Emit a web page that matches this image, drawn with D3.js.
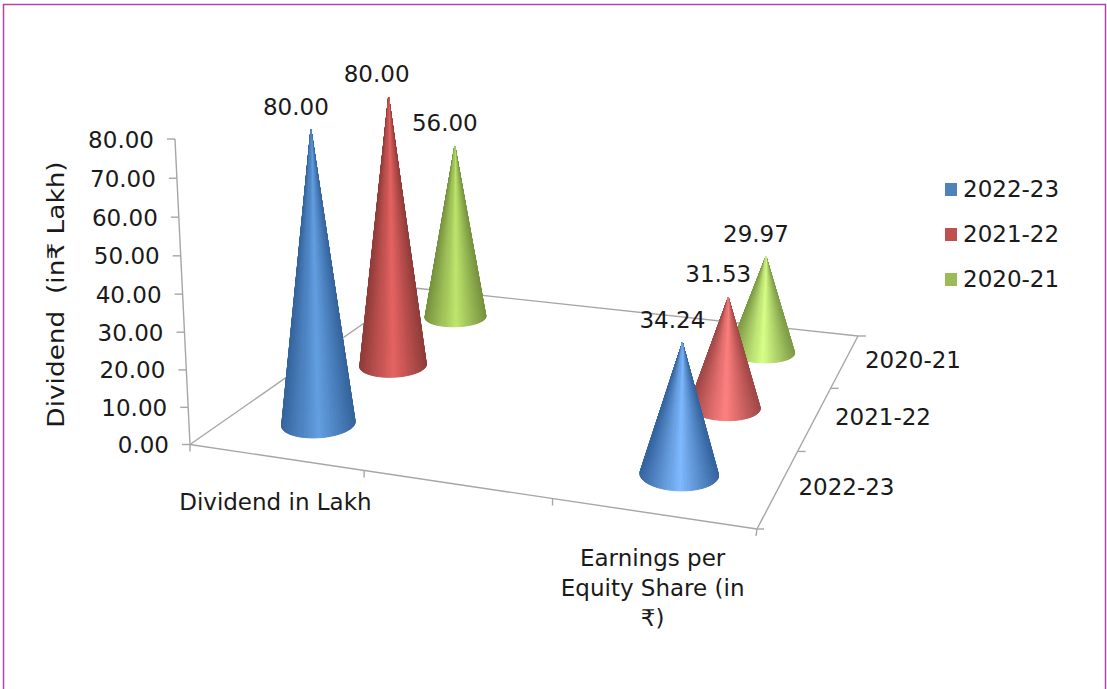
<!DOCTYPE html>
<html>
<head>
<meta charset="utf-8">
<script src="https://cdn.jsdelivr.net/npm/d3@7"></script>
<style>
  html, body { margin: 0; padding: 0; background: #fff; overflow: hidden; }
  svg { display: block; }
  text { font-family: "DejaVu Sans", sans-serif; fill: #1a1a1a; }
</style>
</head>
<body>
<svg width="1107" height="689"></svg>
<script>
// данные
const categories = ["Dividend in Lakh", "", "Earnings per Equity Share (in ₹)"];
const categoryLines = [["Dividend in Lakh"], [], ["Earnings per", "Equity Share (in", "₹)"]];
const series = ["2022-23", "2021-22", "2020-21"];
const values2022 = [80.00, null, 34.24];
const values2021 = [80.00, null, 31.53];
const values2020 = [56.00, null, 29.97];
const yTicks = [0, 10, 20, 30, 40, 50, 60, 70, 80];
const legendColors = ["#4f81bd", "#c0504d", "#9bbb59"];

// цвет края и середины конуса: [серия][категория]
const edgeColors = [["#35649c", null, "#34649f"], ["#8f3c3a", null, "#a04745"], ["#76923f", null, "#7d9a45"]];
const midColors = [["#639fe2", null, "#7fb9ff"], ["#e56462", null, "#ff8080"], ["#bfe66d", null, "#d8ff88"]];

const allValues = [values2022, values2021, values2020];

// углы пола на картинке
const A = [190, 444.5], B = [757, 529], C = [858, 336], D = [414.5, 288];
const axisTop = [174, 139];
const vanish = [660, 10000]; // куда сходятся вертикали
const apexNudge = [3, 2.5];
const fontSize = 23;

const svg = d3.select("svg");

// проекция: единичный квадрат пола -> четырехугольник
function floorHomography() {
  const dx1 = B[0] - C[0], dx2 = D[0] - C[0], sx = A[0] - B[0] + C[0] - D[0];
  const dy1 = B[1] - C[1], dy2 = D[1] - C[1], sy = A[1] - B[1] + C[1] - D[1];
  const den = dx1 * dy2 - dx2 * dy1;
  const g = (sx * dy2 - dx2 * sy) / den;
  const h = (dx1 * sy - sx * dy1) / den;
  return {
    a: B[0] - A[0] + g * B[0], b: D[0] - A[0] + h * D[0], c: A[0],
    d: B[1] - A[1] + g * B[1], e: D[1] - A[1] + h * D[1], f: A[1],
    g: g, h: h
  };
}
const H = floorHomography();
const qw = (A[1] - axisTop[1]) / (axisTop[1] - vanish[1]);

function project(u, v, t) {
  const lift = t || 0;
  const w = H.g * u + H.h * v + 1 + lift * qw;
  return [
    (H.a * u + H.b * v + H.c + lift * qw * vanish[0]) / w,
    (H.d * u + H.e * v + H.f + lift * qw * vanish[1]) / w
  ];
}

// шкалы
const scaleX = d3.scaleBand().domain(categories).range([0, 1]);
const scaleZ = d3.scaleBand().domain(series).range([0, 1]);
const scaleY = d3.scaleLinear().domain([0, 80]).range([0, 1]);

const radiusU = 0.065, radiusV = 0.069;
const line = d3.line();

function drawFrame() {
  svg.append("rect")
    .attr("x", 3.5).attr("y", 4.5)
    .attr("width", 1102).attr("height", 700)
    .attr("fill", "#fff")
    .attr("stroke", "#b244a8")
    .attr("stroke-width", 1.5);

  svg.append("defs").append("filter")
    .attr("id", "soft")
    .append("feGaussianBlur")
    .attr("stdDeviation", 0.6);
}

function drawAxes() {
  const g = svg.append("g")
    .attr("fill", "none")
    .attr("stroke", "#a6a6a6")
    .attr("stroke-width", 1.4);

  [[A, B], [B, C], [C, D], [D, A], [A, project(0, 0, 1)]].forEach(seg => {
    g.append("path").attr("d", line(seg));
  });

  // вертикальная ось
  yTicks.forEach(t => {
    const p = project(0, 0, scaleY(t));
    g.append("path").attr("d", line([[p[0] - 8, p[1]], p]));
    svg.append("text")
      .attr("x", p[0] - 21)
      .attr("y", p[1] + 8.5)
      .attr("text-anchor", "end")
      .attr("font-size", fontSize)
      .text(d3.format(".2f")(t));
  });

  // передняя ось: границы категорий
  categories.forEach((c, i) => {
    const p = project(scaleX.step() * i, 0);
    g.append("path").attr("d", line([p, [p[0], p[1] + 7]]));
  });
  g.append("path").attr("d", line([B, [B[0] - 1, B[1] + 7]]));

  // боковая ось
  series.forEach((s, i) => {
    const p = project(1, scaleZ.step() * (i + 1));
    g.append("path").attr("d", line([p, [p[0] + 8, p[1]]]));
  });
  g.append("path").attr("d", line([B, [B[0] + 7, B[1]]]));

  categories.forEach((c, i) => {
    const p = project(scaleX(c) + scaleX.bandwidth() / 2, 0);
    categoryLines[i].forEach((txt, k) => {
      svg.append("text")
        .attr("x", p[0])
        .attr("y", p[1] + 53 + k * 30)
        .attr("text-anchor", "middle")
        .attr("font-size", fontSize)
        .text(txt);
    });
  });

  series.forEach(s => {
    const p = project(1, scaleZ(s) + scaleZ.bandwidth() / 2);
    svg.append("text")
      .attr("x", p[0] + 20)
      .attr("y", p[1] + 7)
      .attr("font-size", fontSize)
      .text(s);
  });

  // подпись оси в оригинале растянута вдоль строки
  svg.append("text")
    .attr("transform", "translate(64,294.5) rotate(-90) scale(1.147,1)")
    .attr("text-anchor", "middle")
    .attr("font-size", fontSize)
    .attr("xml:space", "preserve")
    .text("Dividend  (in₹ Lakh)");
}

// конус: веер треугольников от вершины к кругу основания
function drawCone(catIndex, serIndex, value) {
  const cat = categories[catIndex], ser = series[serIndex];
  const cu = scaleX(cat) + scaleX.bandwidth() / 2;
  const cv = scaleZ(ser) + scaleZ.bandwidth() / 2;
  const top = project(cu, cv, scaleY(value));
  const apex = [top[0] + apexNudge[0], top[1] + apexNudge[1]];

  const n = 90;
  const ring = d3.range(n + 1).map(i => {
    const a = 2 * Math.PI * i / n;
    return { a: a, p: project(cu + radiusU * Math.cos(a), cv + radiusV * Math.sin(a)) };
  });
  const [x0, x1] = d3.extent(ring, d => d.p[0]);
  const shade = d3.scaleLinear()
    .domain([-1, 0, 1])
    .range([edgeColors[serIndex][catIndex], midColors[serIndex][catIndex], edgeColors[serIndex][catIndex]])
    .interpolate(d3.interpolateRgb);
  const toUnit = d3.scaleLinear().domain([x0, x1]).range([-1, 1]);

  const facets = d3.range(n).map(i => ({
    pts: [apex, ring[i].p, ring[i + 1].p],
    mid: (ring[i].p[0] + ring[i + 1].p[0]) / 2,
    depth: Math.sin((ring[i].a + ring[i + 1].a) / 2)
  })).sort((a, b) => b.depth - a.depth);

  const g = svg.append("g").attr("filter", "url(#soft)");
  facets.forEach(f => {
    const col = shade(toUnit(f.mid));
    g.append("path")
      .attr("d", line(f.pts) + "Z")
      .attr("fill", col)
      .attr("stroke", col)
      .attr("stroke-width", 1);
  });

  return { apex: apex, text: d3.format(".2f")(value), catIndex: catIndex, serIndex: serIndex };
}

function drawCones() {
  const labels = [];
  const firstShift = [-15, -12, -10];
  // сзади вперед, чтобы передние конусы перекрывали задние
  d3.range(series.length - 1, -1, -1).forEach(s => {
    categories.forEach((c, i) => {
      const val = allValues[s][i];
      if (val !== null) labels.push(drawCone(i, s, val));
    });
  });
  labels.forEach(l => {
    svg.append("text")
      .attr("x", l.apex[0] + (l.catIndex === 0 ? firstShift[l.serIndex] : -10))
      .attr("y", l.apex[1] - 15)
      .attr("text-anchor", "middle")
      .attr("font-size", fontSize)
      .text(l.text);
  });
}

function drawLegend() {
  const scaleLegend = d3.scalePoint().domain(series).range([190, 280]);
  series.forEach((s, i) => {
    const y = scaleLegend(s);
    svg.append("rect")
      .attr("x", 945).attr("y", y - 7)
      .attr("width", 12).attr("height", 13)
      .attr("fill", legendColors[i]);
    svg.append("text")
      .attr("x", 963).attr("y", y + 6.5)
      .attr("font-size", fontSize)
      .text(s);
  });
}

drawFrame();
drawAxes();
drawCones();
drawLegend();
</script>
</body>
</html>
